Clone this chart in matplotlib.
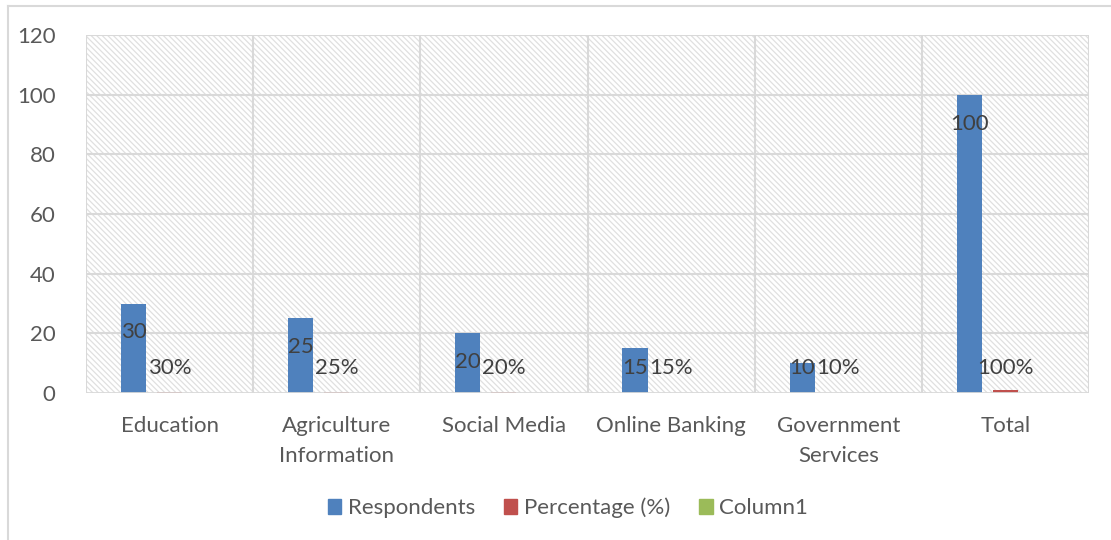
import matplotlib
matplotlib.use("Agg")
import matplotlib.pyplot as plt
from matplotlib.patches import Rectangle
from matplotlib.lines import Line2D
import numpy as np

categories = ["Education", "Agriculture\nInformation", "Social Media", "Online Banking",
              "Government\nServices", "Total"]
respondents = [30, 25, 20, 15, 10, 100]
percentage = [0.30, 0.25, 0.20, 0.15, 0.10, 1.00]
percentage_labels = ["30%", "25%", "20%", "15%", "10%", "100%"]
column1 = [0, 0, 0, 0, 0, 0]
series_names = ["Respondents", "Percentage (%)", "Column1"]
y_ticks = [0, 20, 40, 60, 80, 100, 120]

plt.rcParams['font.family'] = ['Lato', 'DejaVu Sans']
plt.rcParams['hatch.linewidth'] = 0.9

fig = plt.figure(figsize=(11.11, 5.40), dpi=100)
ax = fig.add_axes([86/1111, 1 - 393/540, (1089-86)/1111, (393-35)/540])

grid_c = '#d9d9d9'
ax.add_patch(Rectangle((0, 0), 1, 1, transform=ax.transAxes, facecolor='white',
                       edgecolor='#e0e0e0', linewidth=0, hatch='\\\\\\\\\\\\', zorder=0))

x = np.arange(len(categories))
w = 0.15
off = 0.216
blue, red, green = '#4F81BD', '#C0504D', '#9BBB59'
ax.bar(x - off, respondents, w, color=blue, zorder=3)
ax.bar(x, percentage, w, color=red, zorder=3)
ax.bar(x + off, column1, w, color=green, zorder=3)

fs = 16
lab_c = '#404040'
for xi, v in zip(x, respondents):
    ax.text(xi - off, max(v - 9.7, 8.4), str(v), ha='center', va='center',
            fontsize=fs, color=lab_c, zorder=5)
for xi, t in zip(x, percentage_labels):
    ax.text(xi, 8.4, t, ha='center', va='center', fontsize=fs, color=lab_c, zorder=5)

ax.set_xlim(-0.5, len(categories) - 0.5)
ax.set_ylim(0, 120)
ax.set_yticks(y_ticks)
for yv in y_ticks[1:]:
    ax.axhline(yv, color=grid_c, lw=1.5, zorder=1)
for b in np.arange(-0.5, len(categories), 1.0):
    ax.axvline(b, color=grid_c, lw=1.5, zorder=1)
ax.axhline(0, color=grid_c, lw=2, zorder=4)

ax.set_xticks(x)
ax.set_xticklabels(categories, fontsize=fs, color='#595959', linespacing=1.6)
ax.tick_params(axis='x', length=0, pad=16.5)
ax.tick_params(axis='y', length=0, pad=22, labelsize=fs, labelcolor='#595959')
for s in ax.spines.values():
    s.set_visible(False)

handles = [Rectangle((0, 0), 1, 1, color=c) for c in (blue, red, green)]
fig.legend(handles, series_names, loc='center', bbox_to_anchor=(568/1111, 1 - 508/540),
           ncol=3, frameon=False, fontsize=fs, handlelength=0.6, handleheight=0.6,
           handletextpad=0.3, columnspacing=1.3, labelcolor='#595959')

# chart area border
fig.add_artist(Line2D([8/1111, 8/1111], [0, 1 - 6/540], transform=fig.transFigure,
                      color=grid_c, lw=1.5))
fig.add_artist(Line2D([8/1111, 1], [1 - 6/540, 1 - 6/540], transform=fig.transFigure,
                      color=grid_c, lw=1.5))

fig.savefig('out.png', dpi=100)
